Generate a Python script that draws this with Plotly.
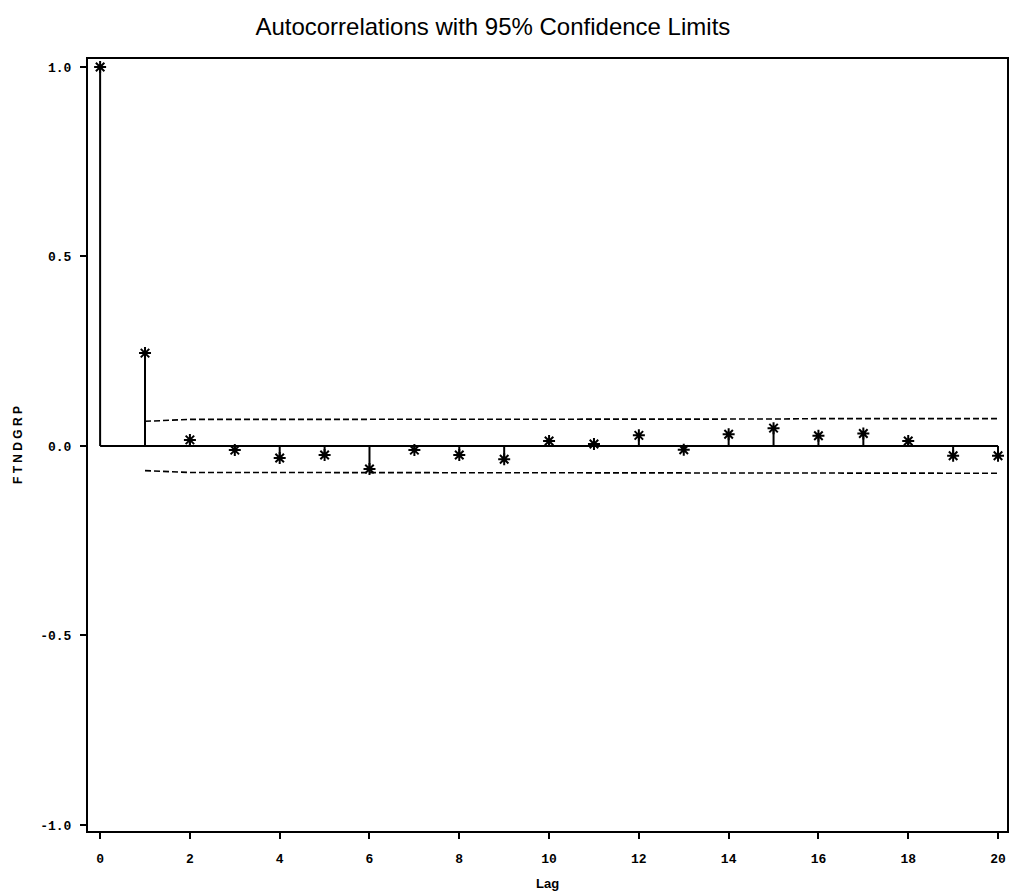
import plotly.graph_objects as go

lags = list(range(0, 21))
acf = [1.0, 0.245, 0.016, -0.011, -0.032, -0.024, -0.061, -0.011, -0.024, -0.035,
       0.013, 0.005, 0.028, -0.010, 0.031, 0.047, 0.027, 0.033, 0.013, -0.026, -0.026]
ci_lags = list(range(1, 21))
ci_upper = [0.065, 0.070, 0.070, 0.070, 0.070, 0.070, 0.071, 0.071, 0.071, 0.071,
            0.071, 0.071, 0.071, 0.071, 0.071, 0.072, 0.072, 0.072, 0.072, 0.072]
ci_lower = [-v for v in ci_upper]
x_ticks = [0, 2, 4, 6, 8, 10, 12, 14, 16, 18, 20]
y_ticks = [-1.0, -0.5, 0.0, 0.5, 1.0]
y_ticktext = ["-1.0", "-0.5", "0.0", "0.5", "1.0"]

# stems
sx, sy = [], []
for l, v in zip(lags, acf):
    sx += [l, l, None]
    sy += [0, v, None]

fig = go.Figure()
fig.add_trace(go.Scatter(x=[lags[0], lags[-1]], y=[0, 0], mode="lines",
                         line=dict(color="black", width=2), hoverinfo="skip"))
fig.add_trace(go.Scatter(x=sx, y=sy, mode="lines",
                         line=dict(color="black", width=2), hoverinfo="skip"))
fig.add_trace(go.Scatter(x=ci_lags, y=ci_upper, mode="lines",
                         line=dict(color="black", width=1.6, dash="6px,3px")))
fig.add_trace(go.Scatter(x=ci_lags, y=ci_lower, mode="lines",
                         line=dict(color="black", width=1.6, dash="6px,3px")))
fig.add_trace(go.Scatter(x=lags, y=acf, mode="markers",
                         marker=dict(symbol="asterisk-open", size=10,
                                     line=dict(color="black", width=2), color="black")))

tickfont = dict(family="Liberation Mono", size=13, color="black")
fig.update_layout(
    width=1012, height=896,
    margin=dict(l=88, r=3, t=59, b=65),
    paper_bgcolor="white", plot_bgcolor="white",
    showlegend=False,
    title=dict(text="Autocorrelations with 95% Confidence Limits",
               font=dict(family="Liberation Sans", size=24, color="black"),
               x=0.487, xanchor="center", y=0.97, yanchor="middle", xref="container", yref="container"),
    xaxis=dict(range=[-0.27, 20.2], tickvals=x_ticks, ticktext=["<b>%d</b>" % t for t in x_ticks],
               showgrid=False, zeroline=False, showline=True, linecolor="black", linewidth=2,
               mirror=True, ticks="outside", ticklen=6, tickwidth=1.5, tickcolor="black",
               tickfont=tickfont, ticklabelstandoff=8),
    yaxis=dict(range=[-1.016, 1.021], tickvals=y_ticks, ticktext=["<b>%s</b>" % t for t in y_ticktext],
               showgrid=False, zeroline=False, showline=True, linecolor="black", linewidth=2,
               mirror=True, ticks="outside", ticklen=6, tickwidth=1.5, tickcolor="black",
               tickfont=tickfont, ticklabelstandoff=6),
    annotations=[
        dict(text="<b>Lag</b>", x=0.5, y=0, xref="paper", yref="paper", showarrow=False,
             font=dict(family="Liberation Sans", size=13, color="black"),
             yanchor="middle", yshift=-52),
        dict(text="<b>F T N D G R P</b>", x=0, y=0.5, xref="paper", yref="paper", showarrow=False,
             font=dict(family="Liberation Sans", size=12, color="black"), textangle=-90,
             xanchor="center", xshift=-70),
    ],
)

fig.write_html("out.html")
